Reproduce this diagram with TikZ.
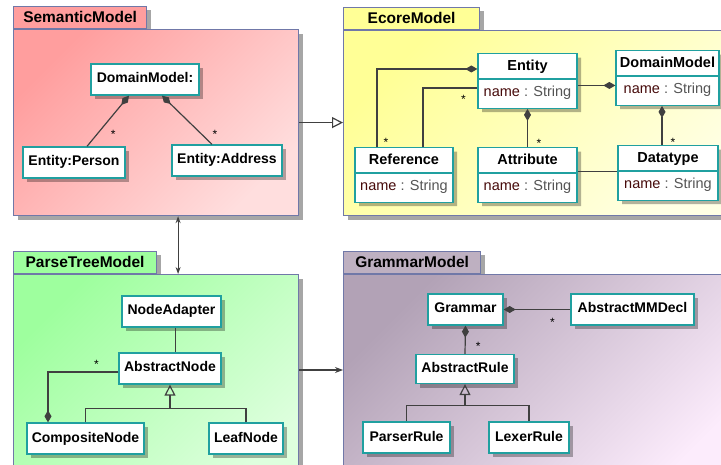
\documentclass[tikz,border=0pt]{standalone}
\usepackage{fontspec}
\setmainfont{Liberation Sans}
\usetikzlibrary{shapes.multipart, arrows.meta, shadows, calc}
\definecolor{clsteal}{RGB}{32,160,160}
\definecolor{pkgblue}{RGB}{112,120,168}
\definecolor{linegray}{RGB}{64,64,64}
\definecolor{semdark}{RGB}{255,158,158}
\definecolor{semlight}{RGB}{255,222,222}
\definecolor{ecodark}{RGB}{255,255,150}
\definecolor{ecolight}{RGB}{255,255,228}
\definecolor{pardark}{RGB}{158,255,158}
\definecolor{parlight}{RGB}{222,255,222}
\definecolor{gradark}{RGB}{178,162,182}
\definecolor{gralight}{RGB}{252,236,252}
\definecolor{attrname}{RGB}{70,10,10}
\definecolor{attrtype}{RGB}{85,85,85}
\newcommand{\clsname}[1]{\rule[-3.5pt]{0pt}{15pt}\textbf{#1}}
\newcommand{\attr}[2]{\rule[-7pt]{0pt}{19pt}\textcolor{attrname}{#1} \textcolor{attrtype}{: #2}}

\begin{document}
\begin{tikzpicture}[x=1pt, y=-1pt,
    pkg/.style={draw=pkgblue, line width=1.2pt, inner sep=0pt,
        drop shadow={shadow xshift=4pt, shadow yshift=-4pt, fill=black, opacity=0.35}},
    pkgfill/.style 2 args={top color=#1, bottom color=#2, shading angle=45},
    pkgtab/.style={pkg, anchor=south west, minimum height=22pt,
        font=\fontsize{15.5}{18}\selectfont\bfseries},
    box/.style={draw=clsteal, fill=white, line width=1.3pt, inner xsep=0pt,
        drop shadow={shadow xshift=4pt, shadow yshift=-4pt, fill=black, opacity=0.3}},
    cls/.style={box, minimum height=31pt, inner ysep=0pt, text height=10pt, text depth=3pt,
        font=\fontsize{14}{16}\selectfont\bfseries},
    ecls/.style={box, rectangle split, rectangle split parts=2, inner ysep=4.5pt,
        font=\fontsize{14.5}{16}\selectfont},
    assoc/.style={draw=linegray, line width=1.2pt},
    comp/.style={assoc, -{Diamond[length=12pt, width=7pt]}},
    inh/.style={assoc, -{Triangle[open, length=11pt, width=11pt]}},
    nav/.style={assoc, -{Stealth[length=8pt, width=6pt]}},
    navboth/.style={assoc, {Stealth[length=7pt, width=5pt]}-{Stealth[length=7pt, width=5pt]}},
    mult/.style={font=\fontsize{12}{12}\selectfont, inner sep=0pt, yshift=-2.5pt}]
    \path[use as bounding box, fill=white] (0,0) rectangle (721,465);

    \node[pkgtab, fill=semdark, minimum width=133pt] (semTab) at (13,29) {SemanticModel};
    \node[pkg, pkgfill={semdark}{semlight}, minimum width=285pt, minimum height=186pt, anchor=north west] (semBody) at (13,29) {};
    \node[pkgtab, fill=ecodark, minimum width=136pt] (ecoTab) at (343,30) {EcoreModel};
    \node[pkg, pkgfill={ecodark}{ecolight}, minimum width=400pt, minimum height=185pt, anchor=north west] (ecoBody) at (343,30) {};
    \node[pkgtab, fill=pardark, minimum width=143pt] (parTab) at (13,274) {ParseTreeModel};
    \node[pkg, pkgfill={pardark}{parlight}, minimum width=285pt, minimum height=216pt, anchor=north west] (parBody) at (13,274) {};
    \node[pkgtab, fill=gradark!85!white, minimum width=137pt] (graTab) at (343,274) {GrammarModel};
    \node[pkg, pkgfill={gradark}{gralight}, minimum width=400pt, minimum height=216pt, anchor=north west] (graBody) at (343,274) {};

    \draw[inh] (semBody.east) -- (semBody.east -| ecoBody.west);
    \draw[navboth] ([xshift=22pt]semBody.south) -- ([xshift=22pt]parBody.north);
    \draw[nav] ([yshift=-96pt]parBody.north east) -- ([yshift=-96pt]graBody.north west);

    \node[cls, minimum width=108pt] (semDomain) at (145,79.5) {DomainModel:};
    \node[cls, minimum width=102pt] (semPerson) at (74,162.5) {Entity:Person};
    \node[cls, minimum width=110pt] (semAddress) at (227,160.5) {Entity:Address};
    \draw[comp] ([xshift=13pt]semPerson.north) -- ([xshift=-16pt]semDomain.south) node[mult, pos=0.29, xshift=14pt] (sm1) {*};
    \draw[comp] ([xshift=-15pt]semAddress.north) -- ([xshift=17pt]semDomain.south) node[mult, pos=0.26, xshift=16pt] (sm2) {*};

    \node[ecls, minimum width=99pt, anchor=north] (eEntity) at (527.5,53) {\clsname{Entity}\nodepart{two}\attr{name}{String}};
    \node[ecls, minimum width=103pt, anchor=north] (eDomain) at (667.5,50) {\clsname{DomainModel}\nodepart{two}\attr{name}{String}};
    \node[ecls, minimum width=98pt, anchor=north] (eRef) at (404,147) {\clsname{Reference}\nodepart{two}\attr{name}{String}};
    \node[ecls, minimum width=99pt, anchor=north] (eAttr) at (527.5,147) {\clsname{Attribute}\nodepart{two}\attr{name}{String}};
    \node[ecls, minimum width=100pt, anchor=north] (eType) at (668,145) {\clsname{Datatype}\nodepart{two}\attr{name}{String}};
    \draw[comp] ([xshift=-27pt]eRef.north) |- ([yshift=-16pt]eEntity.north west) node[mult, pos=0.045, xshift=9pt] (em1) {*};
    \draw[assoc] ([xshift=19pt]eRef.north) |- ([yshift=-35pt]eEntity.north west) node[mult, pos=0.873, yshift=-9pt] (em2) {*};
    \draw[comp] ([yshift=-4.5pt]eEntity.east) -- ([yshift=-4.5pt]eEntity.east -| eDomain.west);
    \draw[comp] (eAttr.north) -- (eEntity.south) node[mult, pos=0.17, xshift=11.5pt] (em3) {*};
    \draw[comp] ([xshift=-6pt]eType.north) -- ([xshift=-6pt]eType.north |- eDomain.south) node[mult, pos=0.12, xshift=11pt] (em4) {*};
    \draw[assoc] ([yshift=3.5pt]eAttr.east) -- ([yshift=3.5pt]eAttr.east -| eType.west);

    \node[cls, minimum width=99pt] (pAdapter) at (171.5,311.5) {NodeAdapter};
    \node[cls, minimum width=102pt] (pAbstract) at (170,368.5) {AbstractNode};
    \node[cls, minimum width=117pt] (pComposite) at (85.5,438.5) {CompositeNode};
    \node[cls, minimum width=74pt] (pLeaf) at (246,438.5) {LeafNode};
    \draw[assoc] ([xshift=4pt]pAdapter.south) -- ([xshift=4pt]pAdapter.south |- pAbstract.north);
    \draw[comp] ([yshift=-3.5pt]pAbstract.west) -| ([xshift=-37.5pt]pComposite.north) node[mult, pos=0.155, yshift=10pt] (pm1) {*};
    \coordinate (pFork) at ($(pAbstract.south)+(0,24)$);
    \draw[inh] (pComposite.north) |- (pFork) -- (pAbstract.south);
    \draw[assoc] (pLeaf.north) |- (pFork);

    \node[cls, minimum width=75pt] (gGrammar) at (465.5,309.5) {Grammar};
    \node[cls, minimum width=123pt] (gDecl) at (632.5,309.5) {AbstractMMDecl};
    \node[cls, minimum width=98pt, minimum height=29pt] (gRule) at (465,369) {AbstractRule};
    \node[cls, minimum width=87pt] (gParser) at (406.5,437.5) {ParserRule};
    \node[cls, minimum width=80pt] (gLexer) at (529,437.5) {LexerRule};
    \draw[comp] (gDecl.west) -- (gGrammar.east) node[mult, pos=0.27, yshift=-10pt] (gm1) {*};
    \draw[comp] (gRule.north) -- (gGrammar.south) node[mult, pos=0.37, xshift=13pt] (gm2) {*};
    \coordinate (gFork) at ($(gRule.south)+(0,21)$);
    \draw[inh] (gParser.north) |- (gFork) -- (gRule.south);
    \draw[assoc] (gLexer.north) |- (gFork);
\end{tikzpicture}
\end{document}
